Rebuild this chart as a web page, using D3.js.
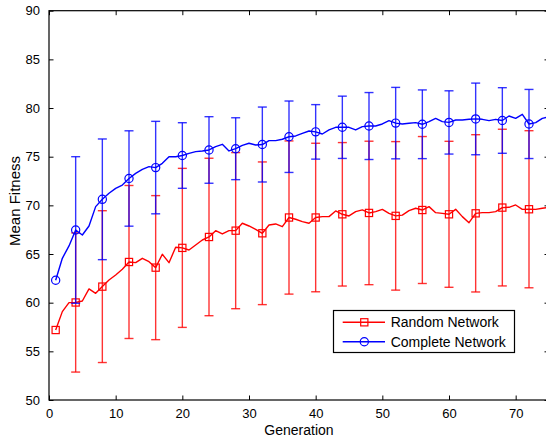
<!DOCTYPE html>
<html><head><meta charset="utf-8">
<script src="https://cdn.jsdelivr.net/npm/d3@7"></script>
<style>
html,body{margin:0;padding:0;background:#fff;overflow:hidden;}
svg{display:block;font-family:"Liberation Sans",Arial,Helvetica,sans-serif;}
</style></head>
<body>
<script>
const generations = [1,2,3,4,5,6,7,8,9,10,11,12,13,14,15,16,17,18,19,20,21,22,23,24,25,26,27,28,29,30,31,32,33,34,35,36,37,38,39,40,41,42,43,44,45,46,47,48,49,50,51,52,53,54,55,56,57,58,59,60,61,62,63,64,65,66,67,68,69,70,71,72,73,74,75];
const randomMean = [57.19,59.08,60.0,60.02,60.17,61.41,60.96,61.65,62.33,62.84,63.43,64.18,64.11,64.56,64.21,63.6,64.97,64.11,65.69,65.63,65.41,65.93,66.44,66.75,67.4,67.06,67.4,67.4,68.16,67.88,67.54,67.13,67.98,68.09,67.81,68.75,68.57,68.33,68.16,68.75,68.84,68.84,69.42,69.08,68.91,69.35,69.53,69.22,69.35,69.59,69.18,68.92,69.0,69.45,69.7,69.52,69.87,69.25,69.18,69.08,69.59,68.84,68.22,69.18,69.25,69.25,69.35,69.77,69.8,70.04,69.59,69.6,69.59,69.7,69.8];
const completeMean = [62.3,64.56,65.83,67.47,66.95,67.88,69.87,70.62,71.24,71.75,72.09,72.76,73.29,73.7,73.98,73.88,74.32,75.0,75.0,75.12,75.34,75.52,75.59,75.69,76.03,76.27,75.59,75.82,76.17,76.38,76.2,76.25,76.65,76.65,76.79,77.05,77.13,77.4,77.64,77.55,77.33,77.75,78.02,78.02,78.02,77.75,78.09,78.15,78.15,78.36,78.7,78.45,78.36,78.43,78.5,78.33,78.6,78.94,78.6,78.52,78.77,78.77,78.84,78.88,78.84,78.7,78.84,78.72,79.18,78.94,79.35,78.36,78.5,78.94,79.1];
const markerGens = [1,4,8,12,16,20,24,28,32,36,40,44,48,52,56,60,64,68,72];
const errorGens = [4,8,12,16,20,24,28,32,36,40,44,48,52,56,60,64,68,72];
const randomStd = [7.15,7.8,7.86,7.4,8.17,8.09,8.02,7.33,7.87,7.63,7.37,7.37,7.63,7.55,7.5,8.08,8.05,8.07];
const completeStd = [7.53,6.2,4.9,4.75,3.37,3.42,3.18,3.85,3.67,2.8,3.2,3.44,3.67,3.53,3.25,3.68,3.37,3.55];
const xTicks = [0,10,20,30,40,50,60,70];
const yTicks = [50,55,60,65,70,75,80,85,90];
const seriesNames = ["Random Network","Complete Network"];
const seriesColors = ["#ff0000","#0000ff"];

(function(){
const W = 546, H = 441;
const x = d3.scaleLinear().domain([0,75]).range([49,549]);
const y = d3.scaleLinear().domain([50,90]).range([400,10.7]);

const svg = d3.select("body").append("svg").attr("width",W).attr("height",H);

const series = [
  {name: seriesNames[0], color: seriesColors[0], mean: randomMean, std: randomStd, marker: "square"},
  {name: seriesNames[1], color: seriesColors[1], mean: completeMean, std: completeStd, marker: "circle"}
];

const plot = svg.append("g");

function drawMarker(g, type, cx, cy, color){
  if(type==="square"){
    g.append("rect").attr("x",cx-3.6).attr("y",cy-3.6).attr("width",7.2).attr("height",7.2)
      .attr("fill","none").attr("stroke",color).attr("stroke-width",1.2);
  } else {
    g.append("circle").attr("cx",cx).attr("cy",cy).attr("r",4.1)
      .attr("fill","none").attr("stroke",color).attr("stroke-width",1.2);
  }
}

const line = d3.line().x((d,i)=>x(generations[i])).y(d=>y(d));

series.forEach(s=>{
  const g = plot.append("g");
  const eb = g.append("g").attr("stroke",s.color).attr("stroke-width",1.4).attr("stroke-opacity",0.8);
  errorGens.forEach((gen,i)=>{
    const m = s.mean[generations.indexOf(gen)];
    const lo = m - s.std[i], hi = m + s.std[i];
    const cx = x(gen);
    eb.append("line").attr("x1",cx).attr("x2",cx).attr("y1",y(lo)).attr("y2",y(hi));
    eb.append("line").attr("x1",cx-4.5).attr("x2",cx+4.5).attr("y1",y(lo)).attr("y2",y(lo));
    eb.append("line").attr("x1",cx-4.5).attr("x2",cx+4.5).attr("y1",y(hi)).attr("y2",y(hi));
  });
  g.append("path").datum(s.mean).attr("d",line).attr("fill","none")
    .attr("stroke",s.color).attr("stroke-width",1.4).attr("stroke-linejoin","round");
  markerGens.forEach(gen=>{
    drawMarker(g, s.marker, x(gen), y(s.mean[generations.indexOf(gen)]), s.color);
  });
});

const axG = svg.append("g").attr("stroke","#000").attr("stroke-width",1.2).attr("fill","none");
axG.append("rect").attr("x",49).attr("y",10.7).attr("width",500).attr("height",389.3);

const axBottom = d3.axisBottom(x).tickValues(xTicks).tickSizeInner(-4.5).tickSizeOuter(0).tickPadding(9);
const gb = svg.append("g").attr("transform","translate(0,400)").call(axBottom);
gb.select(".domain").remove();
gb.selectAll("text").attr("font-size",13).attr("font-family","Liberation Sans, Arial, sans-serif").attr("fill","#000");
gb.selectAll("line").attr("stroke","#000");

const axTop = d3.axisTop(x).tickValues(xTicks).tickSizeInner(-4.5).tickSizeOuter(0).tickFormat("");
const gt = svg.append("g").attr("transform","translate(0,10.7)").call(axTop);
gt.select(".domain").remove();
gt.selectAll("line").attr("stroke","#000");

const axLeft = d3.axisLeft(y).tickValues(yTicks).tickSizeInner(-4.5).tickSizeOuter(0).tickPadding(9);
const gl = svg.append("g").attr("transform","translate(49,0)").call(axLeft);
gl.select(".domain").remove();
gl.selectAll("text").attr("font-size",13).attr("font-family","Liberation Sans, Arial, sans-serif").attr("fill","#000");
gl.selectAll("line").attr("stroke","#000");

const axRight = d3.axisRight(y).tickValues(yTicks).tickSizeInner(-4.5).tickSizeOuter(0).tickFormat("");
const gr = svg.append("g").attr("transform","translate(549,0)").call(axRight);
gr.select(".domain").remove();
gr.selectAll("line").attr("stroke","#000");

svg.append("text").attr("x",299).attr("y",435).attr("text-anchor","middle")
  .attr("font-size",14).attr("fill","#000").text("Generation");
svg.append("text").attr("transform","translate(20,201) rotate(-90)").attr("text-anchor","middle")
  .attr("font-size",15).attr("fill","#000").text("Mean Fitness");

const lg = svg.append("g");
lg.append("rect").attr("x",333.5).attr("y",310.5).attr("width",181).attr("height",42)
  .attr("fill","#fff").attr("stroke","#000").attr("stroke-width",1.2);
const rowsY = [322.3, 341.7];
series.forEach((s,i)=>{
  const ry = rowsY[i];
  lg.append("line").attr("x1",342.7).attr("x2",385).attr("y1",ry).attr("y2",ry)
    .attr("stroke",s.color).attr("stroke-width",1.4);
  drawMarker(lg, s.marker, 364.3, ry, s.color);
  lg.append("text").attr("x",390.7).attr("y",ry).attr("dy","0.36em")
    .attr("font-size",14).attr("fill","#000").text(s.name);
});
})();
</script>
</body></html>
